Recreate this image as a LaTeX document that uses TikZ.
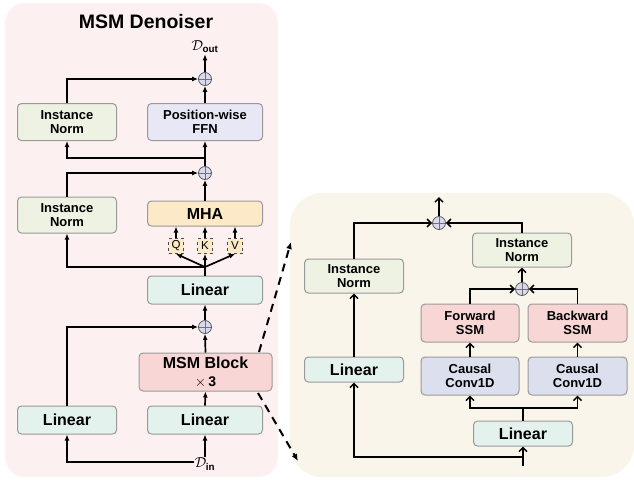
\documentclass[tikz,border=0pt]{standalone}
\usepackage{fontspec}
\setmainfont{Liberation Sans}
\usetikzlibrary{arrows.meta}
\definecolor{bgL}{HTML}{FDF0F0}
\definecolor{bgR}{HTML}{FAF5EA}
\definecolor{inC}{HTML}{EEF2E3}
\definecolor{ffnC}{HTML}{E8E7F5}
\definecolor{mhaC}{HTML}{FCE9C8}
\definecolor{linC}{HTML}{E4F2EE}
\definecolor{msmC}{HTML}{F9D6D6}
\definecolor{convC}{HTML}{DCE0EE}
\definecolor{plusC}{HTML}{D9D9EF}
\definecolor{bordC}{HTML}{9A9A9A}
\tikzset{
  box/.style={draw=bordC, line width=1pt, rounded corners=4pt, align=center, inner sep=0pt},
  two/.style={font=\fontsize{13}{14.5}\selectfont\bfseries},
  big/.style={font=\fontsize{16}{18}\selectfont\bfseries},
  plusnode/.style={circle, draw=black!65, fill=plusC, line width=0.8pt, minimum size=13pt, inner sep=0pt,
    path picture={\draw[line width=0.5pt, black!55] (path picture bounding box.north) -- (path picture bounding box.south) (path picture bounding box.west) -- (path picture bounding box.east);}},
  qkv/.style={draw=black!70, dashed, line width=0.7pt, fill=mhaC, minimum width=15pt, minimum height=15pt, inner sep=0pt, font=\fontsize{11.5}{13}\selectfont},
  mathlbl/.style={font=\fontsize{14}{16}\selectfont, inner sep=1pt},
  la/.style={line width=1.7pt, -{Latex[length=6pt,width=5pt]}},
  ln/.style={line width=1.7pt},
  ra/.style={line width=1.7pt, -{Straight Barb[length=4pt,width=8pt,line width=1.5pt]}},
}
\begin{document}
\begin{tikzpicture}[x=1pt,y=-1pt]
\useasboundingbox (0,0) rectangle (634,483);
% backgrounds
\fill[bgL, rounded corners=20pt] (5,3) rectangle (278,477);
\fill[bgR, rounded corners=32pt] (290,193) rectangle (634,477);
\node[font=\fontsize{19.5}{22}\selectfont\bfseries] (title) at (146,22) {MSM Denoiser};

% left panel nodes
\node[mathlbl] (dout) at (205,47) {$\mathcal{D}_{\mathbf{out}}$};
\node[plusnode] (p1) at (205,79) {};
\node[box, two, fill=inC, minimum width=99pt, minimum height=37pt] (in1) at (67,122) {Instance\\Norm};
\node[box, two, fill=ffnC, minimum width=115pt, minimum height=37pt] (ffn) at (205,122) {Position-wise\\FFN};
\coordinate (c2) at (205,158);
\node[plusnode] (p2) at (205,173) {};
\node[box, two, fill=inC, minimum width=99pt, minimum height=36pt] (in2) at (67,215) {Instance\\Norm};
\node[box, big, fill=mhaC, minimum width=115pt, minimum height=25pt] (mha) at (205,213.5) {MHA};
\node[qkv] (q) at (176,246) {Q};
\node[qkv] (k) at (205,246) {K};
\node[qkv] (v) at (235,246) {V};
\coordinate (fork) at (205,267);
\node[box, big, fill=linC, minimum width=115pt, minimum height=28pt] (lin) at (205,290) {Linear};
\node[plusnode] (p3) at (205,327) {};
\node[box, big, fill=msmC, minimum width=133pt, minimum height=38pt] (msm) at (205.5,372) {};
\node[big] (msmt) at (205.5,363) {MSM Block};
\node[font=\fontsize{14}{16}\selectfont] (msmx) at (205.5,382) {$\times\,\mathbf{3}$};
\node[box, big, fill=linC, minimum width=99pt, minimum height=28pt] (linBL) at (67,420) {Linear};
\node[box, big, fill=linC, minimum width=115pt, minimum height=28pt] (linBR) at (205,420) {Linear};
\node[mathlbl] (din) at (205,464) {$\mathcal{D}_{\mathbf{in}}$};

% left panel connectors
\draw[la] (din.north) -- (linBR.south);
\draw[la] (din.west |- 0,462) -| (linBL.south);
\draw[la] (linBR.north) -- (msm.south);
\draw[la] (msm.north) -- (p3.south);
\draw[la] (linBL.north) |- (p3.west);
\draw[la] (p3.north) -- (lin.south);
\draw[ln] (lin.north) -- (fork);
\draw[la] (fork) -- (q.south);
\draw[la] (fork) -- (k.south);
\draw[la] (fork) -- (v.south);
\draw[la] (fork) -| (in2.south);
\draw[la] (q.north) -- (q.north |- mha.south);
\draw[la] (k.north) -- (k.north |- mha.south);
\draw[la] (v.north) -- (v.north |- mha.south);
\draw[la] (mha.north) -- (p2.south);
\draw[la] (in2.north) |- (p2.west);
\draw[ln] (p2.north) -- (c2);
\draw[la] (c2) -- (ffn.south);
\draw[la] (c2) -| (in1.south);
\draw[la] (ffn.north) -- (p1.south);
\draw[la] (in1.north) |- (p1.west);
\draw[la] (p1.north) -- (dout.south);

% dashed zoom arrows
\coordinate (d1s) at (259,352);
\coordinate (d1e) at (291,242);
\coordinate (d2s) at (258,393);
\coordinate (d2e) at (298,461);
\draw[line width=2pt, dash pattern=on 8pt off 6pt, -{Latex[length=7pt,width=6pt]}] (d1s) -- (d1e);
\draw[line width=2pt, dash pattern=on 8pt off 6pt, -{Latex[length=7pt,width=6pt]}] (d2s) -- (d2e);

% right panel nodes
\node[plusnode] (rp1) at (439,223) {};
\coordinate (rout) at (439,197);
\node[box, two, fill=inC, minimum width=99pt, minimum height=34pt] (rinL) at (354,276) {Instance\\Norm};
\node[box, two, fill=inC, minimum width=99pt, minimum height=34pt] (rinR) at (522,250) {Instance\\Norm};
\node[plusnode] (rp2) at (522,289) {};
\node[box, two, fill=msmC, minimum width=98pt, minimum height=38pt] (fssm) at (470,323) {Forward\\SSM};
\node[box, two, fill=msmC, minimum width=99pt, minimum height=38pt] (bssm) at (577.5,323) {Backward\\SSM};
\node[box, two, fill=convC, minimum width=98pt, minimum height=38pt] (conv1) at (470,376) {Causal\\Conv1D};
\node[box, two, fill=convC, minimum width=99pt, minimum height=38pt] (conv2) at (577.5,376) {Causal\\Conv1D};
\node[box, big, fill=linC, minimum width=99pt, minimum height=25pt] (rlinL) at (354,369.5) {Linear};
\node[box, big, fill=linC, minimum width=99pt, minimum height=25pt] (rlin) at (523,433.5) {Linear};
\coordinate (rin) at (523,466);
\coordinate (rj) at (523,457);
\coordinate (rj2) at (523,408);

% right panel connectors
\draw[ln] (rin) -- (rj);
\draw[ra] (rj) -- (rlin.south);
\draw[ra] (rj) -| (rlinL.south);
\draw[ln] (rlin.north) -- (rj2);
\draw[ra] (rj2) -| (conv1.south);
\draw[ra] (rj2) -| (conv2.south);
\draw[ra] (conv1.north) -- (fssm.south);
\draw[ra] (conv2.north) -- (bssm.south);
\draw[ra] (fssm.north) |- (rp2.west);
\draw[ra] (bssm.north) |- (rp2.east);
\draw[ra] (rp2.north) -- (rinR.south);
\draw[ra] (rinR.north) |- (rp1.east);
\draw[ra] (rinL.north) |- (rp1.west);
\draw[ra] (rlinL.north) -- (rinL.south);
\draw[ra] (rp1.north) -- (rout);
\end{tikzpicture}
\end{document}
